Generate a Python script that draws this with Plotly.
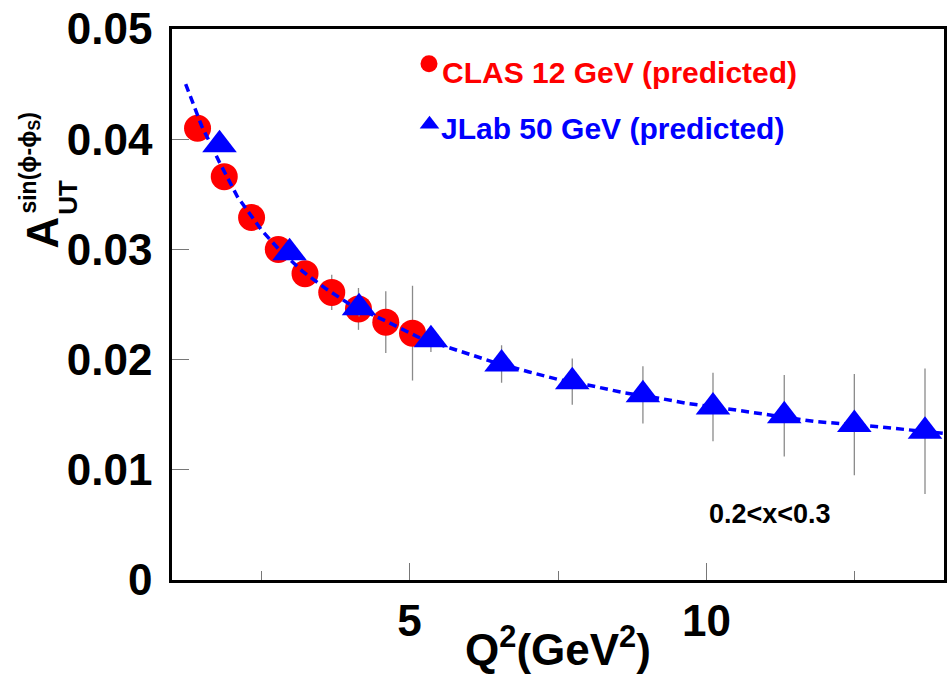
import plotly.graph_objects as go

# CLAS 12 GeV projection: Q^2 (GeV^2), asymmetry, statistical error
clas_q2 = [1.43, 1.88, 2.34, 2.79, 3.24, 3.69, 4.14, 4.60, 5.05]
clas_aut = [0.0410, 0.0366, 0.0329, 0.0300, 0.0278, 0.0261, 0.0246, 0.0234, 0.0224]
clas_err = [0.0003, 0.0004, 0.0005, 0.0007, 0.0010, 0.0016, 0.0019, 0.0028, 0.0043]

# JLab 50 GeV projection
jlab_q2 = [1.80, 2.98, 4.15, 5.36, 6.55, 7.74, 8.93, 10.11, 11.31, 12.49, 13.68]
jlab_aut = [0.0395, 0.0297, 0.0247, 0.0218, 0.0196, 0.0180, 0.0168, 0.0157, 0.0149, 0.0141, 0.0135]
jlab_err = [0.0003, 0.0005, 0.0008, 0.0011, 0.0017, 0.0021, 0.0026, 0.0031, 0.0037, 0.0046, 0.0057]

# model curve
curve_q2 = [1.23, 1.5, 1.8, 2.1, 2.5, 2.8, 3.2, 3.6, 4.0, 4.6, 5.2, 5.6, 6.4, 7.0, 7.5,
            8.0, 8.6, 9.2, 9.7, 10.4, 10.8, 11.8, 12.9, 14.0]
curve_aut = [0.0450, 0.0412, 0.0379, 0.0348, 0.0318, 0.0300, 0.0280, 0.0264, 0.0250,
             0.0235, 0.0219, 0.0212, 0.0198, 0.0189, 0.0182, 0.0177, 0.0170, 0.0165,
             0.0160, 0.0155, 0.0152, 0.0144, 0.0139, 0.0133]

# axis ticks
y_ticks = [0, 0.01, 0.02, 0.03, 0.04, 0.05]
y_tick_labels = ["0", "0.01", "0.02", "0.03", "0.04", "0.05"]
x_ticks = [5, 10]
x_tick_labels = ["5", "10"]

legend_names = ["CLAS 12 GeV (predicted)", "JLab 50 GeV (predicted)"]

FONT = "Liberation Sans, Arial, Helvetica, sans-serif"
RED = "#ff0000"
BLUE = "#0000ff"
BAR = "#8a8a8a"

W, H = 951, 674
ML, MR, MT, MB = 172, 4, 25, 94
PW, PH = W - ML - MR, H - MT - MB

fig = go.Figure()

fig.add_trace(go.Scatter(
    x=clas_q2, y=clas_aut, mode="markers", name=legend_names[0],
    marker=dict(symbol="circle", size=27, color=RED, line=dict(width=0)),
    error_y=dict(type="data", array=clas_err, color=BAR, thickness=1.3, width=0),
    showlegend=False,
))
fig.add_trace(go.Scatter(
    x=jlab_q2, y=jlab_aut, mode="markers", name=legend_names[1],
    marker=dict(symbol="triangle-up", size=30, color=BLUE, line=dict(width=0)),
    error_y=dict(type="data", array=jlab_err, color=BAR, thickness=1.3, width=0),
    showlegend=False,
))
fig.add_trace(go.Scatter(
    x=curve_q2, y=curve_aut, mode="lines", line=dict(color=BLUE, width=3.5, dash="8px,5px"),
    showlegend=False, hoverinfo="skip",
))

# legend keys on a pixel-unit overlay axis
fig.add_trace(go.Scatter(
    x=[430], y=[60], xaxis="x2", yaxis="y2", mode="markers",
    marker=dict(symbol="circle", size=17, color=RED), showlegend=False, hoverinfo="skip",
))
fig.add_trace(go.Scatter(
    x=[430.5], y=[121], xaxis="x2", yaxis="y2", mode="markers",
    marker=dict(symbol="triangle-up", size=17, color=BLUE), showlegend=False, hoverinfo="skip",
))


def label(text, px, py, size, color="black", angle=0, xanchor="center"):
    # place text by page pixel position, converted to paper fractions
    return dict(text=text, x=(px - ML) / PW, y=(H - MB - py) / PH,
                xref="paper", yref="paper", showarrow=False,
                font=dict(family=FONT, size=size, color=color, weight="bold"),
                textangle=angle, xanchor=xanchor, yanchor="middle")


annotations = [
    label(legend_names[0], 441, 69, 30, RED, xanchor="left"),
    label(legend_names[1], 440, 125, 30, BLUE, xanchor="left"),
    label("0.2&lt;x&lt;0.3", 709, 514, 27, xanchor="left"),
    label("Q<sup>2</sup>(GeV<sup>2</sup>)", 560, 647, 44),
    label("A", 42.5, 230, 44, angle=-90),
    label("UT", 67.5, 194, 26, angle=-90),
    label("sin(ϕ-ϕ<sub>S</sub>)", 28, 160, 23, angle=-90),
]

axis_font = dict(family=FONT, size=44, color="black", weight="bold")

fig.update_layout(
    width=W, height=H,
    margin=dict(l=ML, r=MR, t=MT, b=MB, pad=0),
    paper_bgcolor="white", plot_bgcolor="white",
    showlegend=False,
    annotations=annotations,
    xaxis=dict(
        range=[1, 14], tickvals=x_ticks, ticktext=x_tick_labels,
        ticks="inside", ticklen=17, tickwidth=1, tickcolor="#777777",
        minor=dict(tickvals=[2.5, 7.5, 12.5], ticks="inside", ticklen=9,
                   tickwidth=1, tickcolor="#777777"),
        showline=True, linecolor="black", linewidth=2.5, mirror=True,
        showgrid=False, zeroline=False, tickfont=axis_font, ticklabelstandoff=0,
    ),
    yaxis=dict(
        range=[0, 0.05], tickvals=y_ticks, ticktext=y_tick_labels,
        ticks="inside", ticklen=17, tickwidth=1, tickcolor="#777777",
        showline=True, linecolor="black", linewidth=2.5, mirror=True,
        showgrid=False, zeroline=False, tickfont=axis_font, ticklabelstandoff=8,
    ),
    xaxis2=dict(range=[ML, W - MR], overlaying="x", visible=False, fixedrange=True),
    yaxis2=dict(range=[H - MB, MT], overlaying="y", visible=False, fixedrange=True),
)

fig.write_html("out.html")
